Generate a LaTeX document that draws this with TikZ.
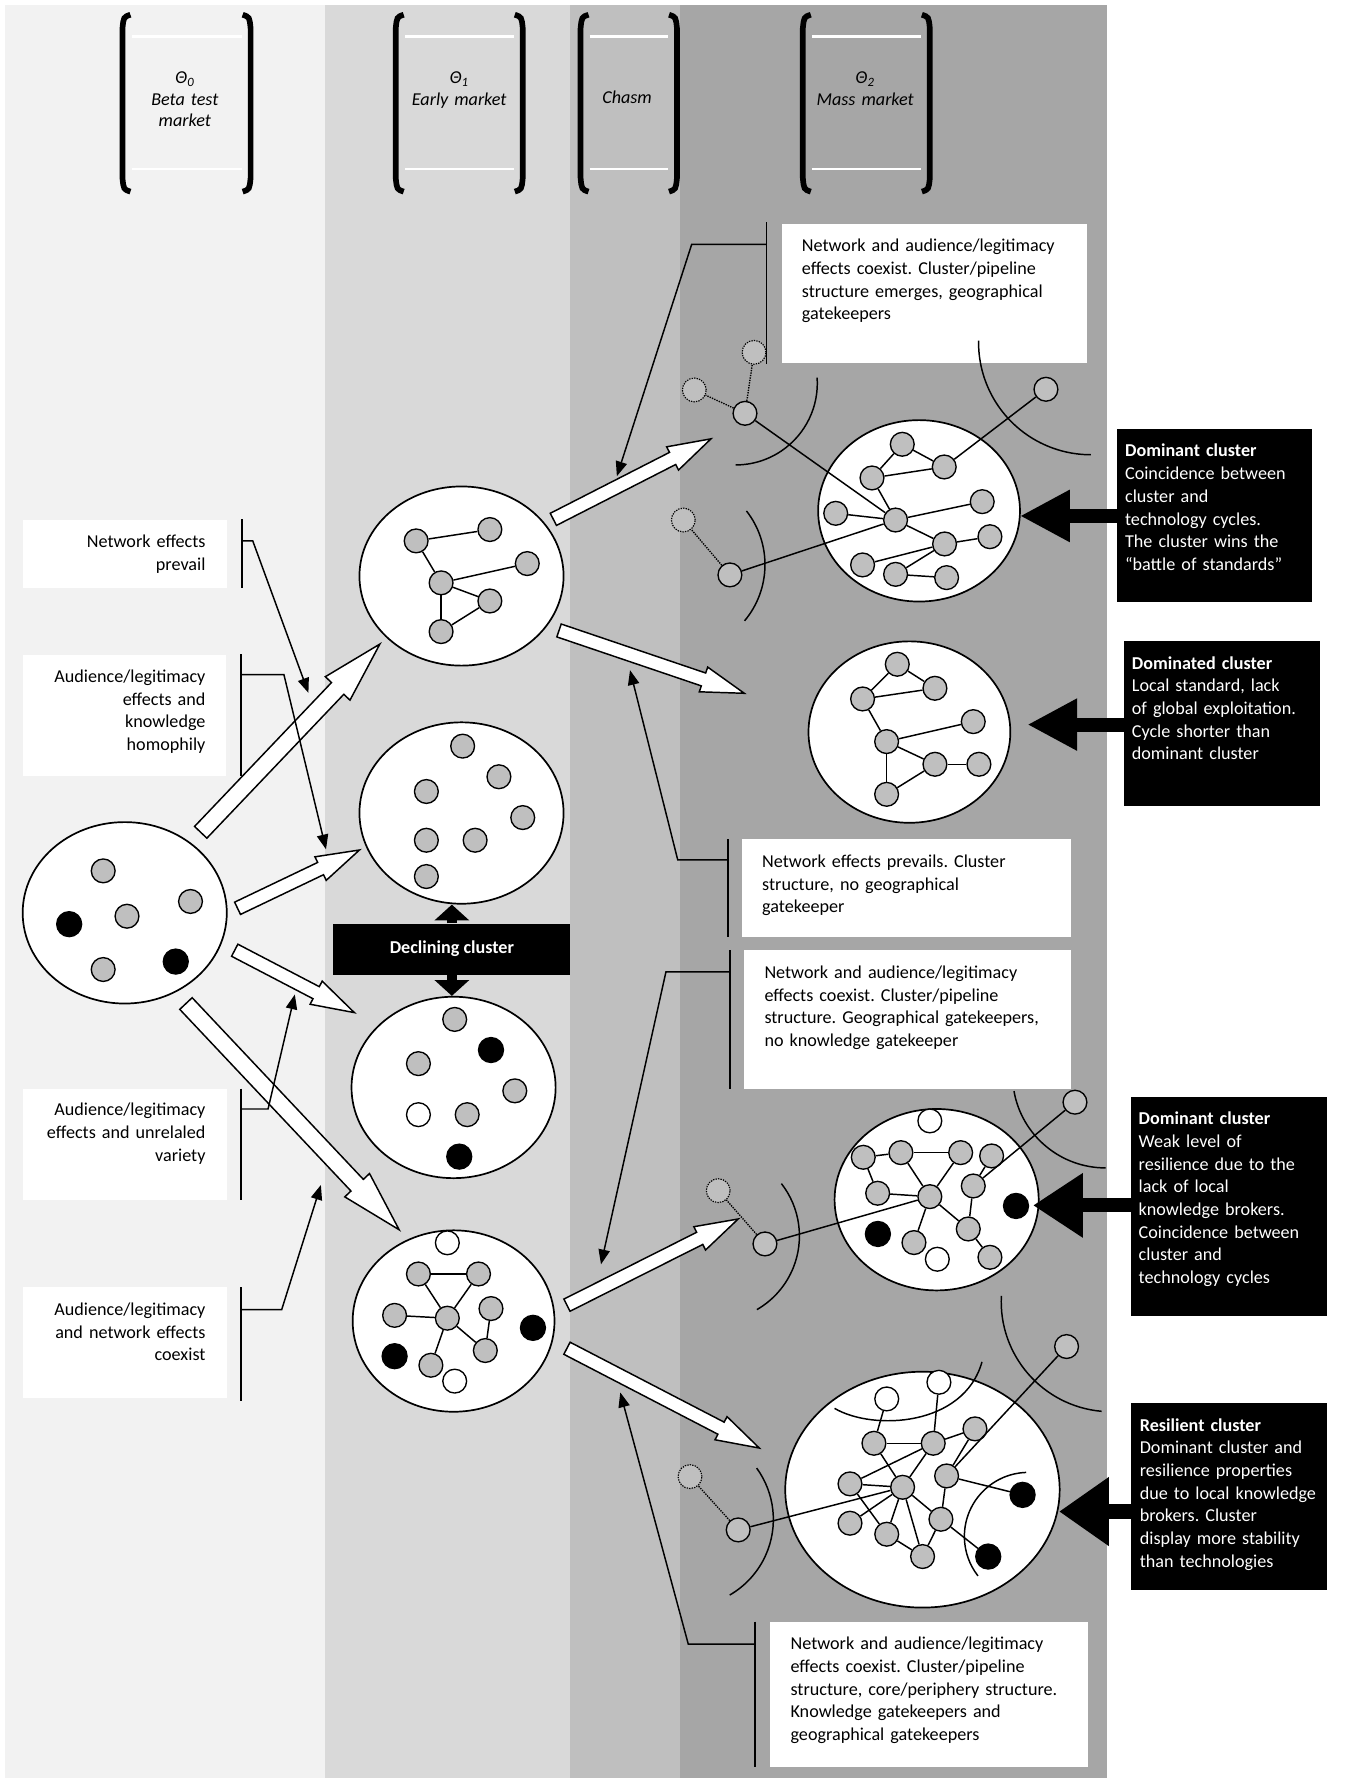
\documentclass[tikz,border=0pt]{standalone}
\usepackage{fontspec}
\setmainfont{Carlito}
\frenchspacing
\usetikzlibrary{arrows.meta,shapes.geometric,calc}

\definecolor{betacol}{HTML}{F2F2F2}
\definecolor{earlycol}{HTML}{D9D9D9}
\definecolor{chasmcol}{HTML}{BFBFBF}
\definecolor{masscol}{HTML}{A6A6A6}
\definecolor{firmcol}{HTML}{BFBFBF}

\tikzset{
  clus/.style={ellipse, draw, fill=white, line width=1.5pt, inner sep=0pt},
  dot/.style={circle, draw, fill=firmcol, line width=1.2pt, minimum size=21pt, inner sep=0pt},
  blk/.style={dot, fill=black, minimum size=22pt},
  wht/.style={dot, fill=white},
  ghost/.style={dot, densely dotted, line width=1pt},
  tie/.style={line width=1.3pt},
  ghosttie/.style={densely dotted, line width=1.2pt},
  box/.style={fill=white, anchor=north west, inner sep=0pt},
  darkbox/.style={fill=black, anchor=north west, inner sep=0pt},
  txt/.style={anchor=base west, inner sep=0pt, text width=300pt, align=left},
  rtxt/.style={anchor=base east, inner sep=0pt, text width=180pt, align=right},
  hdr/.style={anchor=base, inner sep=0pt, text width=120pt, align=center,
    font=\fontsize{16}{19}\selectfont\itshape},
  brak/.style={line width=5pt},
  brace/.style={line width=1.6pt},
  link/.style={line width=1.3pt, -{Triangle[length=13pt,width=10pt]}},
  kick/.style={line width=12.5pt, -{Triangle[length=44pt,width=#1]}},
  fat/.style={line width=9pt, -{Triangle[length=14pt,width=30pt]}},
  hollow/.style={draw, fill=white, line width=1.3pt, line join=miter}
}

% hollow block arrow: tail, tip, half shaft, half head, head length
\newcommand\flow[5]{%
  \coordinate (hb) at ($(#2)!#5!(#1)$);
  \draw[hollow] ($(#1)!#3!90:(#2)$) -- ($(hb)!#3!90:(#2)$) -- ($(hb)!#4!90:(#2)$) -- (#2)
    -- ($(hb)!#4!-90:(#2)$) -- ($(hb)!#3!-90:(#2)$) -- ($(#1)!#3!-90:(#2)$) -- cycle;}

\begin{document}
\begin{tikzpicture}[x=1pt, y=-1pt, font=\fontsize{16}{20}\selectfont]
\useasboundingbox (0,0) rectangle (1186,1568);
\fill[white] (0,0) rectangle (1186,1568);

% market phases
\fill[betacol] (4,4) rectangle (287,1568);
\fill[earlycol] (287,4) rectangle (503,1568);
\fill[chasmcol] (503,4) rectangle (600,1568);
\fill[masscol] (600,4) rectangle (976,1568);

% phase headers
\foreach \l/\r in {108/221, 349/461, 512/597, 708/820}{
  \draw[brak] ({\l+7},13) .. controls ({\l+1},15) .. (\l,25) -- (\l,157) .. controls ({\l+1},167) .. ({\l+7},169);
  \draw[brak] ({\r-7},13) .. controls ({\r-1},15) .. (\r,25) -- (\r,157) .. controls ({\r-1},167) .. ({\r-7},169);
  \draw[white, line width=2.5pt] ({\l+8},32) -- ({\r-8},32) ({\l+8},149) -- ({\r-8},149);
}
\node[hdr] (ph0) at (163,74) {Θ\textsubscript{0}\\Beta test\\market};
\node[hdr] (ph1) at (405,74) {Θ\textsubscript{1}\\Early market};
\node[hdr] (ph2) at (553,91) {Chasm};
\node[hdr] (ph3) at (763,74) {Θ\textsubscript{2}\\Mass market};

% left notes
\node[box, minimum width=180pt, minimum height=60pt] (nl1) at (20,458) {};
\node[box, minimum width=179pt, minimum height=107pt] (nl2) at (20,577) {};
\node[box, minimum width=180pt, minimum height=98pt] (nl3) at (20,960) {};
\node[box, minimum width=180pt, minimum height=98pt] (nl4) at (20,1135) {};
\node[rtxt] (nl1t) at ($(nl1.north east)+(-19,25)$) {Network effects\\prevail};
\node[rtxt] (nl2t) at ($(nl2.north east)+(-18,25)$) {Audience/legitimacy\\effects and\\knowledge\\homophily};
\node[rtxt] (nl3t) at ($(nl3.north east)+(-19,24)$) {Audience/legitimacy\\effects and unrelaled\\variety};
\node[rtxt] (nl4t) at ($(nl4.north east)+(-19,25)$) {Audience/legitimacy\\and network effects\\coexist};

% right notes
\node[box, minimum width=269pt, minimum height=123pt] (nt1) at (689,197) {};
\node[box, minimum width=290pt, minimum height=86pt] (nt2) at (654,740) {};
\node[box, minimum width=288pt, minimum height=122pt] (nt3) at (656,838) {};
\node[box, minimum width=280pt, minimum height=128pt] (nt4) at (679,1430) {};
\node[txt] (nt1t) at ($(nt1.north west)+(18,25)$) {Network and audience/legitimacy\\effects coexist. Cluster/pipeline\\structure emerges, geographical\\gatekeepers};
\node[txt] (nt2t) at ($(nt2.north west)+(18,25)$) {Network effects prevails. Cluster\\structure, no geographical\\gatekeeper};
\node[txt] (nt3t) at ($(nt3.north west)+(18,25)$) {Network and audience/legitimacy\\effects coexist. Cluster/pipeline\\structure. Geographical gatekeepers,\\no knowledge gatekeeper};
\node[txt] (nt4t) at ($(nt4.north west)+(18,25)$) {Network and audience/legitimacy\\effects coexist. Cluster/pipeline\\structure, core/periphery structure.\\Knowledge gatekeepers and\\geographical gatekeepers};

% outcomes
\node[darkbox, minimum width=172pt, minimum height=153pt] (nd1) at (985,378) {};
\node[darkbox, minimum width=173pt, minimum height=146pt] (nd2) at (991,565) {};
\node[darkbox, minimum width=173pt, minimum height=193pt] (nd3) at (997,967) {};
\node[darkbox, minimum width=173pt, minimum height=165pt] (nd4) at (997,1237) {};
\node[txt, text=white] (nd1t) at ($(nd1.north west)+(7,25)$) {\textbf{Dominant cluster}\\Coincidence between\\cluster and\\technology cycles.\\The cluster wins the\\“battle of standards”};
\node[txt, text=white] (nd2t) at ($(nd2.north west)+(7,25)$) {\textbf{Dominated cluster}\\Local standard, lack\\of global exploitation.\\Cycle shorter than\\dominant cluster};
\node[txt, text=white] (nd3t) at ($(nd3.north west)+(7,25)$) {\textbf{Dominant cluster}\\Weak level of\\resilience due to the\\lack of local\\knowledge brokers.\\Coincidence between\\cluster and\\technology cycles};
\node[txt, text=white] (nd4t) at ($(nd4.north west)+(8,25)$) {\textbf{Resilient cluster}\\Dominant cluster and\\resilience properties\\due to local knowledge\\brokers. Cluster\\display more stability\\than technologies};

% clusters
\node[clus, minimum width=180pt, minimum height=160pt] (c0) at (110,805) {};
\node[clus, minimum width=180pt, minimum height=158pt] (cA) at (407,508) {};
\node[clus, minimum width=180pt, minimum height=160pt] (cB) at (407,717) {};
\node[clus, minimum width=180pt, minimum height=160pt] (cC) at (400,959) {};
\node[clus, minimum width=178pt, minimum height=160pt] (cD) at (400,1165) {};
\node[clus, minimum width=178pt, minimum height=160pt] (cE) at (810.5,450.5) {};
\node[clus, minimum width=178pt, minimum height=160pt] (cF) at (802,645.6) {};
\node[clus, minimum width=180pt, minimum height=160pt] (cG) at (826,1058) {};
\node[clus, minimum width=242pt, minimum height=208pt] (cH) at (813.5,1313.7) {};

% reach of the clusters
\draw[tie] (720.6,333) arc[start angle=-4, end angle=90, radius=72];
\draw[tie] (658.3,450.6) arc[start angle=-38, end angle=40, radius=77];
\draw[tie] (863,300.3) arc[start angle=181, end angle=90, radius=99];
\draw[tie] (689.1,1043.8) arc[start angle=-38, end angle=60, radius=75];
\draw[tie] (894.2,962.2) arc[start angle=170, end angle=90, radius=82];
\draw[tie] (883.1,1142.9) arc[start angle=183, end angle=95, radius=97];
\draw[tie] (667.3,1294.7) arc[start angle=-36, end angle=60, radius=77];
\draw[tie] (905,1298.5) arc[start angle=268, end angle=142, radius=56.5];
\draw[tie] (736,1242) .. controls (770,1262) and (850,1258) .. (866,1201);

% evolution
\coordinate (from1) at (177,734);   \coordinate (to1) at (335,568);
\coordinate (from2) at (209.5,801); \coordinate (to2) at (317,749.6);
\coordinate (from3) at (207,838);   \coordinate (to3) at (312.5,893);
\coordinate (from4) at (164,885);   \coordinate (to4) at (352,1084.5);
\coordinate (from5) at (488,458);   \coordinate (to5) at (627,387);
\coordinate (from6) at (493,556);   \coordinate (to6) at (656.4,611.4);
\coordinate (from7) at (500,1151);  \coordinate (to7) at (651,1075);
\coordinate (from8) at (500,1189);  \coordinate (to8) at (669.6,1277);
\flow{from1}{to1}{7.5pt}{15pt}{54pt}
\flow{from4}{to4}{7.5pt}{15pt}{54pt}
\foreach \i in {2,3,5,6,7,8}{\flow{from\i}{to\i}{6pt}{11.5pt}{38pt}}

% firms
\foreach \n/\x/\y in {o1/91/768, o2/168/795, o3/112/808, o5/91/855,
  a1/367/477, a2/432/467, a3/465/497, a4/389/514, a5/432/530, a6/389/557,
  b1/408/658, b2/440/685, b3/376/698, b4/461/721, b5/376/741, b6/419/741, b7/376/773,
  c1/401/899, c3/369/938, c4/454/962, c6/412/983,
  d2/369/1123.5, d3/422/1123.5, d4/348/1160, d5/394.5/1162.5, d6/433/1154, d9/428/1191, d10/380/1204,
  e1/795.7/391.8, e2/832.7/411.8, e3/769/421.5, e4/737/452.7, e5/789.8/458.6, e6/866.2/442.4,
  e7/833/479.7, e8/873/473.3, e9/760.7/498.2, e10/789.8/506.5, e11/834.8/509.4,
  ep1/657/364.5, ep2/643.7/507, ep3/922.4/343.3,
  f1/791.3/585.8, f2/824.5/607, f3/760.7/616.4, f4/858.3/636.4, f5/781.9/654, f6/824.5/674,
  f7/863.3/674, f8/781.9/700.5,
  g2/761.3/1020.6, g3/794.5/1016.5, g4/847.2/1016.5, g5/874.5/1019.4, g6/774/1052.3, g7/820/1055.3,
  g8/858.3/1045.9, g11/853.9/1083.8, g12/806/1095.8, g14/873/1108.8, gp1/948/972, gp2/674.6/1097,
  h3/770.7/1272.8, h4/823/1272.8, h5/859.8/1260.1, h6/749.6/1308.6, h7/796/1311.6, h8/834.8/1301.6,
  h9/749.6/1343.3, h10/782/1353, h11/829.8/1339.8, h12/813.6/1372.7, hp1/940.6/1187.5, hp2/651/1349.2}
  \node[dot] (\n) at (\x,\y) {};
\foreach \n/\x/\y in {o4/61/815, o6/155/848, c2/433/926, c7/405/1020, d7/470/1171, d8/348/1196,
  g9/896/1063.5, g10/774.2/1088.2, h13/901.8/1318.3, h14/871.5/1372.7}
  \node[blk] (\n) at (\x,\y) {};
\foreach \n/\x/\y in {c5/369/983, d1/394.5/1096, d11/401/1218, g1/820/988.5, g13/826.6/1110.5,
  h1/782/1233.7, h2/828/1219}
  \node[wht] (\n) at (\x,\y) {};
\foreach \n/\x/\y in {eq1/665/310.7, eq2/612.3/343.9, eq3/602.6/458.6, gq/633.4/1050, hq/608.5/1302.2}
  \node[ghost] (\n) at (\x,\y) {};

% ties between firms
\foreach \u/\v in {a1/a2, a1/a4, a4/a3, a4/a5, a4/a6, a6/a5,
  d2/d3, d2/d5, d3/d5, d4/d5, d5/d10, d5/d9, d6/d9,
  e1/e2, e3/e1, e3/e2, e3/e5, e4/e5, e5/e6, e5/e7, e7/e8, e9/e7, e10/e7, e10/e11,
  ep1/e5, ep2/e5, ep3/e2,
  f1/f2, f3/f1, f3/f2, f3/f5, f5/f4, f5/f6, f6/f7, f8/f6, f8/f5,
  g2/g3, g3/g4, g2/g6, g6/g7, g3/g7, g4/g7, g7/g12, g7/g11, g8/g5, g8/g11, g11/g14, gp1/g8, gp2/g7,
  h1/h3, h2/h4, h3/h4, h4/h5, h6/h4, h6/h7, h3/h7, h4/h7, h5/h8, h8/h11, h8/h13, h9/h7, h7/h10,
  h6/h10, h7/h12, h12/h11, h10/h12, h11/h14, h7/h11, hp1/h8, hp2/h7}
  \draw[tie] (\u) -- (\v);
\foreach \u/\v in {ep1/eq1, ep1/eq2, ep2/eq3, gp2/gq, hp2/hq}
  \draw[ghosttie] (\u) -- (\v);

% notes pointing at the transitions
\coordinate (w1) at (272,611);   \coordinate (w2) at (287.5,749);
\coordinate (w3) at (260,877);   \coordinate (w4) at (283,1045);
\coordinate (w5) at (544,420);   \coordinate (w6) at (555.6,591);
\coordinate (w7) at (530,1115);  \coordinate (w8) at (547,1228);
\draw[brace] ($(nl1.north east)+(13,0)$) -- ($(nl1.south east)+(13,0)$);
\draw[link] ($(nl1.north east)+(13,19)$) -- ++(9.5,0) -- (w1);
\draw[brace] ($(nl2.north east)+(13,0)$) -- ($(nl2.south east)+(13,0)$);
\draw[link] ($(nl2.north east)+(13,18)$) -- ++(38,0) -- (w2);
\draw[brace] ($(nl3.north east)+(12,0)$) -- ($(nl3.south east)+(12,0)$);
\draw[link] ($(nl3.north east)+(12,18)$) -- ++(24,0) -- (w3);
\draw[brace] ($(nl4.north east)+(12,0)$) -- ($(nl4.south east)+(12,2)$);
\draw[link] ($(nl4.north east)+(12,20)$) -- ++(36,0) -- (w4);
\draw[brace] ($(nt1.north west)+(-13,-1)$) -- ($(nt1.south west)+(-13,1)$);
\draw[link] ($(nt1.north west)+(-13,18.5)$) -- ++(-66,0) -- (w5);
\draw[brace] ($(nt2.north west)+(-12.3,0)$) -- ($(nt2.south west)+(-12.3,0)$);
\draw[link] ($(nt2.north west)+(-12.3,18.4)$) -- ++(-44,0) -- (w6);
\draw[brace] ($(nt3.north west)+(-12.3,0)$) -- ($(nt3.south west)+(-12.3,0)$);
\draw[link] ($(nt3.north west)+(-12.3,19)$) -- ++(-56.4,0) -- (w7);
\draw[brace] ($(nt4.north west)+(-13,0)$) -- ($(nt4.south west)+(-13,0)$);
\draw[link] ($(nt4.north west)+(-13,20)$) -- ++(-59,0) -- (w8);

% outcome arrows
\coordinate (k1) at (899.5,455);
\coordinate (k2) at (906,639);
\coordinate (k3) at (911,1063);
\coordinate (k4) at (934,1333);
\draw[kick=43pt] (nd1.west |- k1) -- (k1);
\draw[kick=43pt] (nd2.west |- k2) -- (k2);
\draw[kick=54pt] (nd3.west |- k3) -- (k3);
\draw[kick=58pt] (nd4.west |- k4) -- (k4);

% declining cluster
\node[fill=black, text=white, font=\fontsize{16}{20}\selectfont\bfseries, minimum width=209pt,
  minimum height=45pt, inner sep=0pt] (dec) at (398.5,837) {Declining cluster};
\draw[fat] (dec.north) -- (dec.north |- cB.south);
\draw[fat] (dec.south) -- (dec.south |- cC.north);
\end{tikzpicture}
\end{document}
